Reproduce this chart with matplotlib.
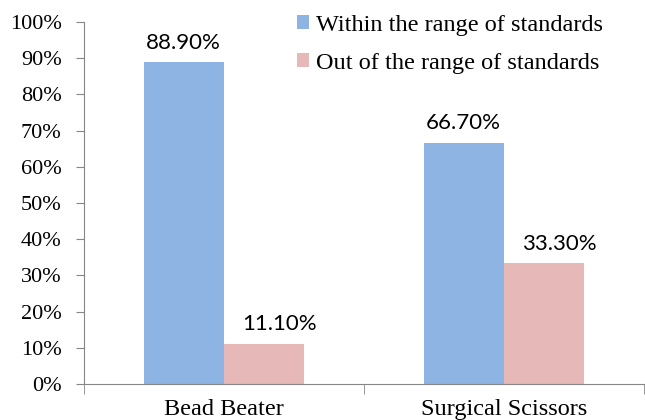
import matplotlib.pyplot as plt
import numpy as np

categories = ['Bead Beater', 'Surgical Scissors']
within = [88.9, 66.7]
out_of = [11.1, 33.3]
series_names = ['Within the range of standards', 'Out of the range of standards']
colors = ['#8EB4E3', '#E6B9B8']

plt.rcParams['font.family'] = ['Liberation Serif', 'DejaVu Serif']

fig = plt.figure(figsize=(6.45, 4.2), dpi=100)
ax = fig.add_axes([0.130, 0.0857, 0.868, 0.862])

x = np.arange(len(categories))
w = 0.286
b1 = ax.bar(x - w / 2, within, w, color=colors[0], label=series_names[0])
b2 = ax.bar(x + w / 2, out_of, w, color=colors[1], label=series_names[1])

# data labels (the pink ones sit a bit to the right in the original)
for bars, dx in ((b1, 0), (b2, 11)):
    for r in bars:
        ax.annotate('%.2f%%' % r.get_height(),
                    (r.get_x() + r.get_width() / 2, r.get_height()),
                    xytext=(dx, 14), textcoords='offset points',
                    ha='center', va='center', fontsize=16, family='Lato')

ax.set_xlim(-0.5, 1.5)
ax.set_ylim(0, 100)
ax.set_yticks(range(0, 101, 10))
ax.set_yticklabels(['%d%%' % v for v in range(0, 101, 10)], fontsize=16)
ax.set_xticks(x)
ax.set_xticklabels(categories, fontsize=17.5)
ax.set_xticks([-0.5, 0.5, 1.5], minor=True)
ax.tick_params(axis='x', which='major', length=0, pad=11)
ax.tick_params(axis='x', which='minor', length=7, color='#868686')
ax.tick_params(axis='y', length=6, color='#868686', pad=10)

for s in ['top', 'right']:
    ax.spines[s].set_visible(False)
for s in ['left', 'bottom']:
    ax.spines[s].set_color('#868686')

ax.legend(loc='upper left', bbox_to_anchor=(297 / 645, 1 - 15 / 420),
          bbox_transform=fig.transFigure, frameon=False,
          prop={'size': 17.5}, borderpad=0, borderaxespad=0,
          handlelength=0.5, handleheight=0.5, handletextpad=0.3,
          labelspacing=0.68)

plt.savefig('out.png', dpi=100)
